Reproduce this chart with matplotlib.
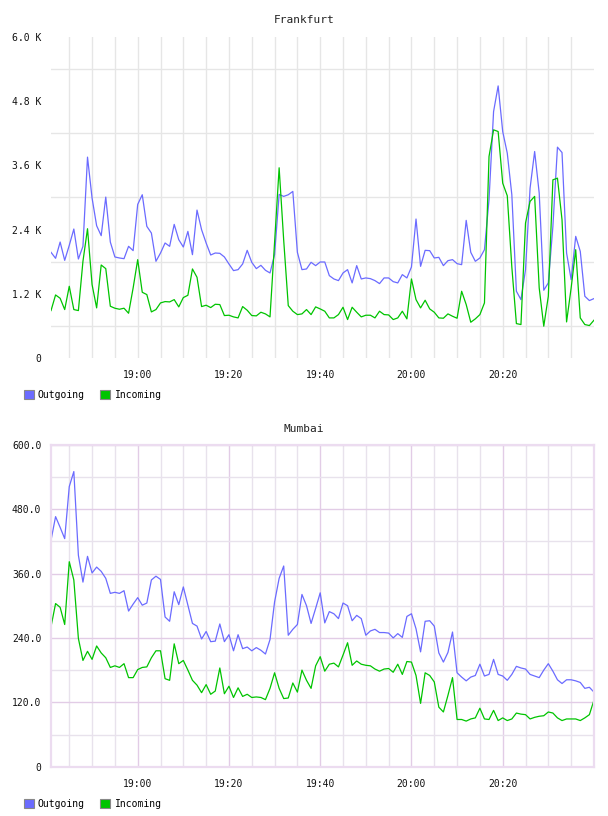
import matplotlib
matplotlib.use("Agg")
import matplotlib.pyplot as plt
import matplotlib.dates as mdates
from matplotlib.patches import Patch
from matplotlib.ticker import FixedLocator, FixedFormatter
import numpy as np
import pandas as pd

times = pd.date_range("2024-01-01 18:41", periods=120, freq="min")

# Frankfurt, bytes/s
fra_out = [1975, 1863, 2167, 1825, 2105, 2410, 1850, 2087, 3754, 2988,
           2472, 2286, 3007, 2167, 1888, 1869, 1856, 2087, 2006, 2870,
           3051, 2460, 2335, 1807, 1962, 2149, 2087, 2497, 2211, 2074,
           2366, 1931, 2764, 2398, 2149, 1925, 1962, 1956, 1888, 1757,
           1633, 1651, 1757, 2012, 1788, 1670, 1732, 1639, 1589, 1931,
           3057, 3020, 3051, 3113, 1975, 1651, 1664, 1788, 1726, 1794,
           1794, 1539, 1477, 1446, 1589, 1651, 1403, 1726, 1477, 1496,
           1483, 1446, 1390, 1496, 1496, 1427, 1403, 1558, 1496, 1701,
           2597, 1713, 2012, 2006, 1869, 1881, 1726, 1819, 1838, 1763,
           1744, 2572, 1975, 1807, 1869, 2024, 2957, 4606, 5085, 4233,
           3828, 3051, 1247, 1091, 1651, 3175, 3859, 3082, 1266, 1403,
           2460, 3940, 3840, 1962, 1465, 2273, 1993, 1154, 1073, 1110]
fra_in = [886, 1178, 1116, 905, 1340, 905, 886, 1807, 2416, 1371,
          936, 1738, 1670, 967, 930, 911, 930, 836, 1309, 1838,
          1228, 1185, 861, 905, 1029, 1054, 1048, 1091, 955, 1129,
          1172, 1664, 1508, 961, 986, 942, 1004, 998, 793, 799,
          768, 749, 961, 892, 793, 787, 855, 824, 768, 2160,
          3555, 2200, 979, 874, 811, 824, 905, 811, 955, 917,
          874, 749, 749, 811, 948, 718, 948, 855, 768, 799,
          799, 749, 874, 811, 805, 718, 749, 874, 731, 1477,
          1091, 936, 1079, 917, 855, 749, 743, 824, 780, 743,
          1247, 998, 668, 731, 811, 1029, 3766, 4264, 4233, 3268,
          3032, 1700, 643, 625, 2522, 2927, 3020, 1309, 594, 1154,
          3330, 3361, 2584, 674, 1309, 2024, 749, 625, 606, 706]

# Mumbai
bom_out = [422, 466, 446, 425, 522, 550, 394, 344, 392, 361,
           372, 364, 351, 323, 325, 323, 328, 290, 303, 315,
           301, 305, 348, 355, 349, 279, 271, 326, 302, 335,
           301, 267, 262, 238, 252, 233, 234, 266, 233, 246,
           216, 246, 220, 223, 216, 222, 217, 210, 237, 307,
           351, 374, 245, 256, 265, 321, 300, 267, 295, 324,
           268, 289, 285, 276, 305, 300, 272, 282, 276, 245,
           253, 256, 250, 250, 249, 240, 248, 241, 280, 285,
           257, 214, 271, 272, 262, 212, 195, 213, 251, 175,
           167, 160, 167, 170, 191, 169, 172, 200, 172, 169,
           161, 172, 187, 184, 182, 172, 169, 166, 180, 192,
           178, 162, 155, 162, 162, 160, 157, 146, 148, 139]
bom_in = [261, 304, 297, 265, 382, 348, 239, 198, 215, 200,
          225, 212, 203, 185, 188, 185, 192, 166, 166, 181,
          185, 186, 203, 216, 216, 164, 161, 229, 192, 198,
          180, 161, 152, 138, 153, 135, 141, 184, 136, 150,
          129, 147, 131, 135, 129, 130, 129, 125, 146, 175,
          146, 127, 128, 156, 139, 180, 161, 146, 188, 205,
          178, 191, 193, 186, 208, 231, 189, 197, 191, 189,
          188, 182, 178, 182, 183, 176, 191, 172, 196, 195,
          170, 118, 175, 170, 158, 111, 102, 133, 166, 88,
          88, 85, 89, 91, 109, 89, 88, 105, 86, 91,
          86, 89, 100, 98, 97, 89, 92, 94, 95, 102,
          100, 91, 86, 89, 89, 89, 86, 91, 97, 124]

fra_ticks = [0, 1200, 2400, 3600, 4800, 6000]
fra_labels = ["0", "1.2 K", "2.4 K", "3.6 K", "4.8 K", "6.0 K"]
bom_ticks = [0, 120, 240, 360, 480, 600]
bom_labels = ["0", "120.0", "240.0", "360.0", "480.0", "600.0"]
time_ticks = ["19:00", "19:20", "19:40", "20:00", "20:20"]

OUT_C = "#6b6bff"
IN_C = "#00c400"
FONT = "DejaVu Sans Mono"

fig = plt.figure(figsize=(6.08, 8.16), dpi=100)
plt.rcParams["font.family"] = FONT

major_x = mdates.date2num([pd.Timestamp("2024-01-01 " + t) for t in time_ticks])
minor_x = mdates.date2num(pd.date_range("2024-01-01 18:45", "2024-01-01 20:35", freq="5min"))


def setup_axes(ax, ticks, labels, purple):
    ax.set_xlim(times[0], times[-1])
    ax.set_ylim(ticks[0], ticks[-1])
    ax.xaxis.set_major_locator(FixedLocator(major_x))
    ax.xaxis.set_major_formatter(FixedFormatter(time_ticks))
    ax.xaxis.set_minor_locator(FixedLocator(minor_x))
    ax.yaxis.set_major_locator(FixedLocator(ticks))
    ax.yaxis.set_major_formatter(FixedFormatter(labels))
    step = ticks[1] - ticks[0]
    ax.yaxis.set_minor_locator(FixedLocator([t + step / 2 for t in ticks[:-1]]))
    ax.tick_params(which="both", length=0, labelsize=7, colors="#111111")
    ax.tick_params(axis="x", pad=9)
    ax.tick_params(axis="y", pad=7)
    if purple:
        for s in ax.spines.values():
            s.set_color("#ecdcf0")
            s.set_linewidth(1.6)
        ax.grid(True, which="major", color="#e2cce6", lw=1.0)
        ax.grid(True, which="minor", color="#e8e2ec", lw=1.0)
    else:
        for s in ax.spines.values():
            s.set_visible(False)
        ax.grid(True, which="minor", color="#e6e6e6", lw=1.0)
        ax.grid(True, which="major", axis="x", color="#e6e6e6", lw=1.0)
    ax.set_axisbelow(True)


def draw_chart(rect, title, title_y, out_vals, in_vals, ticks, labels, purple, leg_y):
    ax = fig.add_axes(rect)
    ax.plot(times, out_vals, color=OUT_C, lw=0.9)
    ax.plot(times, in_vals, color=IN_C, lw=0.9)
    setup_axes(ax, ticks, labels, purple)
    fig.text(0.5, title_y, title, ha="center", va="center", fontsize=8, color="#222222")
    handles = [Patch(facecolor=OUT_C, edgecolor="#888888", lw=0.8),
               Patch(facecolor=IN_C, edgecolor="#888888", lw=0.8)]
    fig.legend(handles, ["Outgoing", "Incoming"], loc="upper left",
               bbox_to_anchor=(0.028, leg_y), ncol=2, frameon=False,
               fontsize=7, handlelength=1.0, handleheight=1.0,
               handletextpad=0.45, columnspacing=1.6, borderpad=0.2)
    return ax


draw_chart([0.0839, 0.5613, 0.893, 0.3934], "Frankfurt", 1 - 20 / 816,
           fra_out, fra_in, fra_ticks, fra_labels, False, 1 - 383 / 816)
draw_chart([0.0839, 0.0604, 0.893, 0.3946], "Mumbai", 1 - 429 / 816,
           bom_out, bom_in, bom_ticks, bom_labels, True, 1 - 792 / 816)

fig.savefig("out.png", dpi=100)
